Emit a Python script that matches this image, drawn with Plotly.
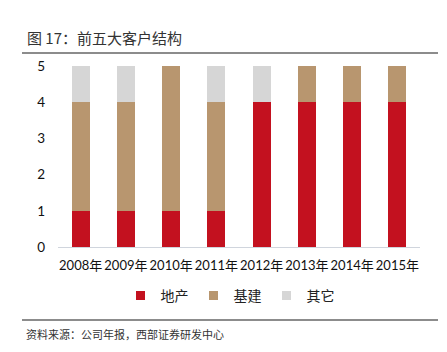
import plotly.graph_objects as go

years = ["2008年", "2009年", "2010年", "2011年", "2012年", "2013年", "2014年", "2015年"]
dichan = [1, 1, 1, 1, 4, 4, 4, 4]
jijian = [3, 3, 4, 3, 0, 1, 1, 1]
qita = [1, 1, 0, 1, 1, 0, 0, 0]

W, H = 447, 352
L, R, T, B = 58, 420, 66, 247

def px(x):
    return (x - L) / (R - L)

def py(y):
    return (B - y) / (B - T)

fig = go.Figure()
for name, vals, col in [("地产", dichan, "#C3111F"), ("基建", jijian, "#B8966F"), ("其它", qita, "#D6D6D6")]:
    fig.add_trace(go.Bar(x=years, y=vals, name=name, marker=dict(color=col, line=dict(width=0)),
                         width=0.4, showlegend=False, legendgroup=name))
    fig.add_trace(go.Scatter(x=[None], y=[None], mode="markers", name=name, legendgroup=name,
                             marker=dict(symbol="square", size=9, color=col)))

cjk = "Noto Sans CJK SC"
fig.update_layout(
    width=W, height=H, barmode="stack",
    margin=dict(l=L, r=W - R, t=T, b=H - B, pad=0),
    plot_bgcolor="white", paper_bgcolor="white",
    font=dict(family="Lato, " + cjk, size=13, color="#222"),
    showlegend=True,
    legend=dict(orientation="h", x=px(230), xanchor="center", y=py(296), yanchor="middle",
                font=dict(size=14, family=cjk, color="#222"), itemwidth=30, traceorder="normal",
                tracegroupgap=0),
)
fig.update_xaxes(showgrid=False, showline=True, linecolor="#D0D5DD", linewidth=1.2, ticks="",
                 tickangle=0, ticklabelstandoff=6,
                 tickfont=dict(size=13, family="Lato, " + cjk, color="#111"))
fig.update_yaxes(range=[0, 5], dtick=1, showgrid=False, showline=False, zeroline=False, ticks="",
                 tickfont=dict(size=13.5, family="Lato", color="#111"), ticklabelstandoff=12)

# title and footer
fig.add_annotation(text="图 17：前五大客户结构", x=px(25), y=py(37), xref="paper", yref="paper",
                   xanchor="left", yanchor="middle", showarrow=False,
                   font=dict(size=15, family=cjk, color="#333"))
fig.add_annotation(text="资料来源：公司年报，西部证券研发中心", x=px(24), y=py(334), xref="paper", yref="paper",
                   xanchor="left", yanchor="middle", showarrow=False,
                   font=dict(size=11, family=cjk, color="#333"))
for yy in (53, 320):
    fig.add_shape(type="line", xref="paper", yref="paper", x0=px(22), x1=px(438), y0=py(yy), y1=py(yy),
                  line=dict(color="#666", width=1.5))

fig.write_html("out.html")
